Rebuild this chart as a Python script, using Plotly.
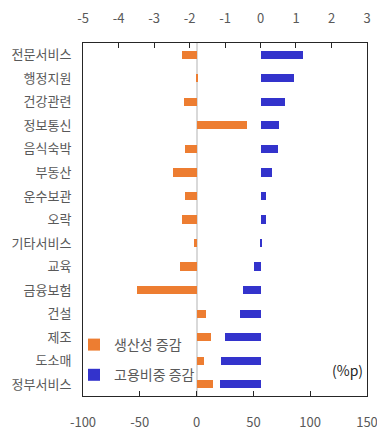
import plotly.graph_objects as go

# 업종별 생산성 증감과 고용비중 증감
categories = ["전문서비스", "행정지원", "건강관련", "정보통신", "음식숙박", "부동산",
              "운수보관", "오락", "기타서비스", "교육", "금융보험", "건설", "제조",
              "도소매", "정부서비스"]
productivity_change = [-13.2, 0.8, -11.4, 44.3, -10.0, -20.9, -10.6, -13.2, -2.0,
                       -14.4, -52.8, 8.2, 12.6, 6.7, 14.6]
employment_share_change = [1.20, 0.95, 0.70, 0.53, 0.50, 0.32, 0.16, 0.16, 0.05,
                           -0.18, -0.48, -0.59, -1.01, -1.12, -1.13]

bottom_ticks = [-100, -50, 0, 50, 100, 150]
top_ticks = [-5, -4, -3, -2, -1, 0, 1, 2, 3]

FONT = "Noto Sans CJK KR"
GRAY = "#595959"

fig = go.Figure()
fig.add_trace(go.Bar(
    y=categories, x=productivity_change, orientation="h", name="생산성 증감",
    marker=dict(color="#ED7D31", line=dict(width=0)), width=0.35,
    xaxis="x", legendgroup="a",
))
fig.add_trace(go.Bar(
    y=categories, x=employment_share_change, orientation="h", name="고용비중 증감",
    marker=dict(color="#3333CC", line=dict(width=0)), width=0.35,
    xaxis="x2", legendgroup="b",
))

def fmt(v):
    return str(v).replace("\u2212", "-")

fig.update_layout(
    width=377, height=431,
    margin=dict(l=83, r=10, t=43, b=35, autoexpand=False),
    paper_bgcolor="white", plot_bgcolor="white",
    barmode="overlay", bargap=0,
    font=dict(family=FONT, size=13, color=GRAY),
    showlegend=True,
    legend=dict(
        xref="container", yref="container",
        x=74 / 377, xanchor="left", y=1 - 329 / 431, yanchor="top",
        bgcolor="rgba(0,0,0,0)", font=dict(size=14, color=GRAY),
        tracegroupgap=9, itemwidth=30,
    ),
    xaxis=dict(
        range=[-100, 150.01], tickmode="array", tickvals=bottom_ticks,
        ticktext=[fmt(v) for v in bottom_ticks], automargin=False,
        ticklabeloverflow="allow",
        showgrid=False, zeroline=True, zerolinecolor="#D9D9D9", zerolinewidth=2,
        showline=True, linecolor="#262626", linewidth=1,
        ticks="inside", ticklen=5, tickcolor="#262626",
        tickfont=dict(size=13, color=GRAY), ticklabelstandoff=14,
    ),
    xaxis2=dict(
        range=[-5, 3.0002], overlaying="x", side="top", tickmode="array",
        tickvals=top_ticks, ticktext=[fmt(v) for v in top_ticks], automargin=False,
        ticklabeloverflow="allow",
        showgrid=False, zeroline=False,
        showline=True, linecolor="#262626", linewidth=1,
        ticks="inside", ticklen=5, tickcolor="#262626",
        tickfont=dict(size=13, color=GRAY), ticklabelstandoff=14,
    ),
    yaxis=dict(
        type="category", autorange="reversed", showgrid=False, automargin=False,
        showline=True, mirror=True, linecolor="#262626", linewidth=1,
        ticks="", tickfont=dict(size=13, color=GRAY), ticklabelstandoff=8,
    ),
    annotations=[dict(
        text="(%p)", xref="paper", yref="paper", x=0.93, y=0.075,
        xanchor="center", yanchor="middle", showarrow=False,
        font=dict(size=14, color="#262626"),
    )],
)

fig.write_html("out.html")
